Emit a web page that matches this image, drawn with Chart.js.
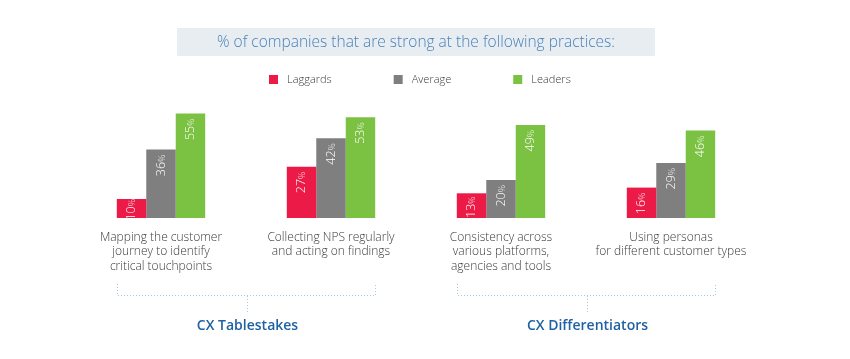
<!DOCTYPE html>
<html>
<head>
<meta charset="utf-8">
<script src="https://cdn.jsdelivr.net/npm/chart.js@4.4.0/dist/chart.umd.min.js"></script>
<style>
  html, body { margin: 0; padding: 0; background: #fff; }
  #wrap { width: 850px; height: 359px; }
</style>
</head>
<body>
<div id="wrap"><canvas id="practiceChart"></canvas></div>
<script>
// Data
const practices = [
  ["Mapping the customer", "journey to identify", "critical touchpoints"],
  ["Collecting NPS regularly", "and acting on findings"],
  ["Consistency across", "various platforms,", "agencies and tools"],
  ["Using personas", "for different customer types"]
];
const laggards = [10, 27, 13, 16];
const average = [36, 42, 20, 29];
const leaders = [55, 53, 49, 46];
const groupLabels = ["CX Tablestakes", "CX Differentiators"];
const groupRanges = [[0, 1], [2, 3]];
const chartTitle = "% of companies that are strong at the following practices:";

const FONT = "'Open Sans', 'Noto Sans', sans-serif";

// Title box, legend, value labels and group brackets
const decorPlugin = {
  id: "decor",
  afterDraw(chart) {
    const ctx = chart.ctx;
    const area = chart.chartArea;
    const cx = (area.left + area.right) / 2;

    // title band
    ctx.save();
    ctx.fillStyle = "#e8edf1";
    ctx.fillRect(177, 28, 478, 28);
    ctx.fillStyle = "#4a82ba";
    ctx.font = "300 15.5px " + FONT;
    ctx.textAlign = "center";
    ctx.textBaseline = "middle";
    ctx.fillText(chartTitle, cx, 43);

    // legend
    ctx.font = "300 11px " + FONT;
    ctx.textAlign = "left";
    const sets = chart.data.datasets;
    const gap = 62;
    const widths = sets.map(d => 9 + 9 + ctx.measureText(d.label).width);
    let x = 269;
    sets.forEach((d, i) => {
      ctx.fillStyle = d.backgroundColor;
      ctx.fillRect(x, 75, 9, 9);
      ctx.fillStyle = "#3a3a3a";
      ctx.fillText(d.label, x + 18, 79.5);
      x += widths[i] + gap;
    });

    // brackets under the category groups
    ctx.strokeStyle = "#9fcbe4";
    ctx.lineWidth = 1;
    ctx.setLineDash([1, 2]);
    const first = chart.getDatasetMeta(0).data;
    const last = chart.getDatasetMeta(sets.length - 1).data;
    groupRanges.forEach((r, gi) => {
      const x0 = Math.round(first[r[0]].x - first[r[0]].width / 2) + 0.5;
      const x1 = Math.round(last[r[1]].x + last[r[1]].width / 2) + 0.5;
      const mid = Math.round((x0 + x1) / 2) + 0.5;
      ctx.beginPath();
      ctx.moveTo(x0, 284);
      ctx.lineTo(x0, 295.5);
      ctx.lineTo(x1, 295.5);
      ctx.lineTo(x1, 284);
      ctx.moveTo(mid, 296);
      ctx.lineTo(mid, 313);
      ctx.stroke();
      ctx.fillStyle = "#1f62a3";
      ctx.font = "600 14px " + FONT;
      ctx.textAlign = "center";
      ctx.fillText(groupLabels[gi], mid, 326);
    });
    ctx.restore();
  },
  afterDatasetsDraw(chart) {
    const ctx = chart.ctx;
    ctx.save();
    chart.data.datasets.forEach((d, di) => {
      chart.getDatasetMeta(di).data.forEach((bar, i) => {
        const num = String(d.data[i]);
        ctx.font = "300 9px " + FONT;
        const pw = ctx.measureText("%").width;
        ctx.font = "300 12.5px " + FONT;
        const nw = ctx.measureText(num).width;
        const room = bar.base - bar.y - (pw + nw);
        const off = Math.max(0, Math.min(5, room));
        ctx.save();
        ctx.translate(bar.x, bar.y + off);
        ctx.rotate(-Math.PI / 2);
        ctx.fillStyle = "#fff";
        ctx.textBaseline = "middle";
        ctx.textAlign = "right";
        ctx.font = "300 9px " + FONT;
        ctx.fillText("%", 0, 1);
        ctx.font = "300 12.5px " + FONT;
        ctx.fillText(num, -pw, 0);
        ctx.restore();
      });
    });
    ctx.restore();
  }
};

new Chart(document.getElementById("practiceChart"), {
  type: "bar",
  data: {
    labels: practices,
    datasets: [
      { label: "Laggards", data: laggards, backgroundColor: "#ec1a47" },
      { label: "Average", data: average, backgroundColor: "#7f7f7f" },
      { label: "Leaders", data: leaders, backgroundColor: "#7cc242" }
    ]
  },
  options: {
    responsive: true,
    maintainAspectRatio: false,
    animation: false,
    layout: { padding: { left: 76, right: 94, top: 104, bottom: 81 } },
    datasets: { bar: { barPercentage: 1, categoryPercentage: 0.52 } },
    plugins: { legend: { display: false }, tooltip: { enabled: false } },
    scales: {
      x: {
        grid: { display: false },
        border: { display: false },
        afterFit(scale) { scale.height = 60; },
        ticks: {
          color: "#3a3a3a",
          padding: 5,
          maxRotation: 0,
          autoSkip: false,
          font: { family: FONT, size: 12, weight: 300, lineHeight: 1.17 }
        }
      },
      y: { display: false, min: 0, max: 60 }
    }
  },
  plugins: [decorPlugin]
});
</script>
</body>
</html>
